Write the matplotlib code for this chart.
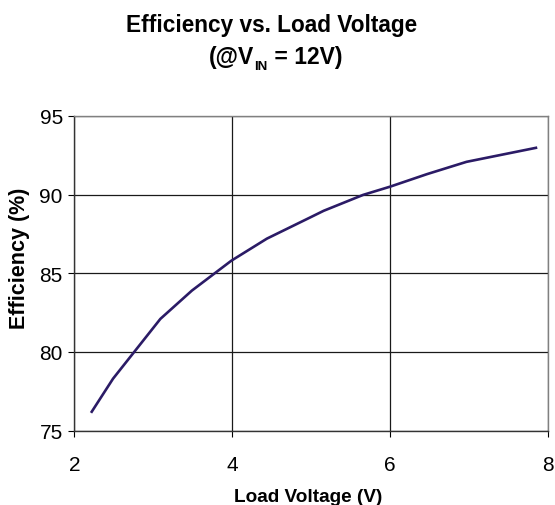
import matplotlib
matplotlib.use("Agg")
import matplotlib.pyplot as plt

plt.rcParams['font.family'] = ['Liberation Sans', 'DejaVu Sans']

load_voltage = [2.22, 2.49, 2.79, 3.09, 3.49, 3.99, 4.44, 4.99, 5.16, 5.66, 6.0, 6.47, 6.97, 7.85]
efficiency = [76.2, 78.3, 80.2, 82.1, 83.9, 85.8, 87.2, 88.55, 88.97, 89.98, 90.5, 91.3, 92.08, 92.97]
x_ticks = [2, 4, 6, 8]
y_ticks = [75, 80, 85, 90, 95]

fig = plt.figure(figsize=(5.55, 5.06), dpi=100)
ax = fig.add_axes([0.134, 0.147, 0.853, 0.622])
ax.plot(load_voltage, efficiency, color='#2B1B66', lw=1.9)
ax.set_xlim(2, 8)
ax.set_ylim(75, 95)
ax.set_xticks(x_ticks)
ax.set_yticks(y_ticks)
ax.grid(True, color='#1a1a1a', lw=0.9)
ax.set_axisbelow(True)
for s in ax.spines.values():
    s.set_color('#808080')
    s.set_linewidth(1.0)
ax.spines['left'].set_color('#333333')
ax.spines['bottom'].set_color('#333333')
ax.tick_params(direction='out', length=4.3, width=0.8, color='black', labelsize=15)
ax.tick_params(axis='y', pad=4)
ax.tick_params(axis='x', pad=13)

fig.text(0.555, 0.008, 'Load Voltage (V)', ha='center', va='baseline',
         fontsize=13.7, fontweight='bold')
fig.text(0.035, 0.489, 'Efficiency (%)', ha='center', va='center', rotation=90,
         fontsize=15.5, fontweight='bold')

fig.text(0.49, 0.9368, 'Efficiency vs. Load Voltage', ha='center', va='baseline',
         fontsize=16.3, fontweight='bold')

# second title line with a manual subscript
fig.canvas.draw()
renderer = fig.canvas.get_renderer()
parts = [('(@V', 16.5, 0), ('IN', 9.5, -6), (' = 12V)', 16.5, 0)]
widths = []
for txt, fs, dy in parts:
    t = fig.text(0, 0, txt, fontsize=fs, fontweight='bold')
    widths.append(t.get_window_extent(renderer).width)
    t.remove()
total = sum(widths)
x0 = 0.497 * fig.bbox.width - total / 2
base = (1 - 64 / 506) * fig.bbox.height
x = x0
for (txt, fs, dy), w in zip(parts, widths):
    fig.text(x / fig.bbox.width, (base + dy) / fig.bbox.height, txt, fontsize=fs,
             fontweight='bold', ha='left', va='baseline')
    x += w

fig.savefig('out.png', dpi=100)
